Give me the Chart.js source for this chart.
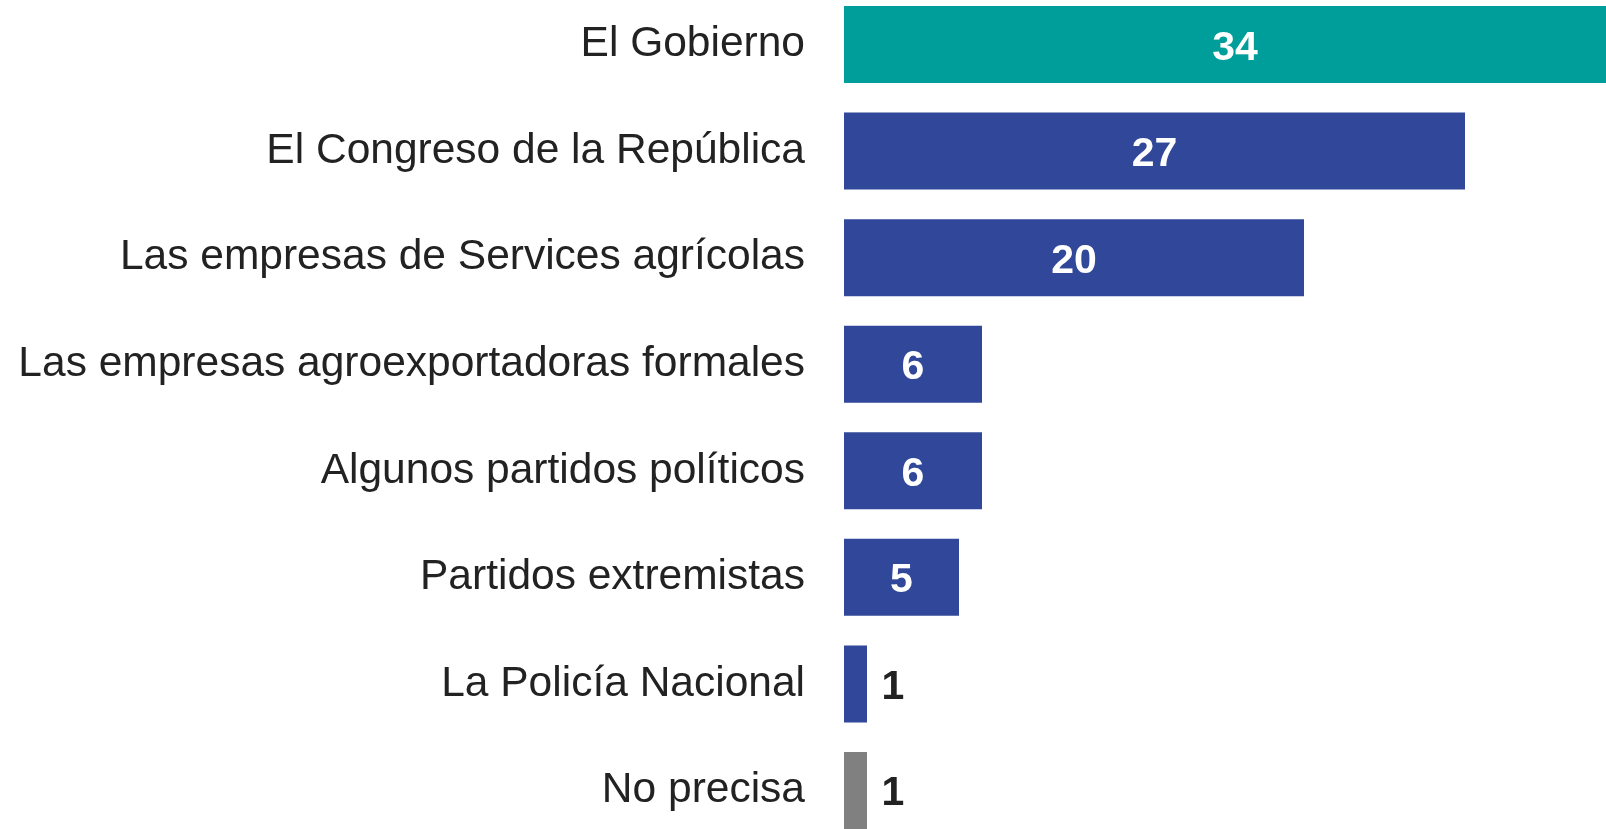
<!DOCTYPE html>
<html>
<head>
<meta charset="utf-8">
<script src="https://cdn.jsdelivr.net/npm/chart.js@4/dist/chart.umd.min.js"></script>
<style>
    html, body { margin: 0; padding: 0; background: #fff; overflow: hidden; width: 1606px; height: 829px; }
    #chart { position: absolute; left: 0; top: -69px; }
</style>
</head>
<body>
<canvas id="chart" width="1764" height="973"></canvas>
<script>
const categories = [
    'El Gobierno',
    'El Congreso de la República',
    'Las empresas de Services agrícolas',
    'Las empresas agroexportadoras formales',
    'Algunos partidos políticos',
    'Partidos extremistas',
    'La Policía Nacional',
    'No precisa'
];
const values = [34, 27, 20, 6, 6, 5, 1, 1];
const barColors = ['#009e9a', '#30479a', '#30479a', '#30479a', '#30479a', '#30479a', '#30479a', '#808080'];

// value labels: white inside wide bars, dark just past the end of tiny ones
const valueLabels = {
    id: 'valueLabels',
    afterDatasetsDraw(chart) {
        const ctx = chart.ctx;
        const meta = chart.getDatasetMeta(0);
        ctx.save();
        ctx.font = 'bold 41px "Liberation Sans", Arial, sans-serif';
        ctx.textAlign = 'center';
        ctx.textBaseline = 'alphabetic';
        meta.data.forEach((bar, i) => {
            const v = values[i];
            const w = bar.x - bar.base;
            if (w > 60) {
                ctx.fillStyle = '#ffffff';
                ctx.fillText(String(v), bar.base + w / 2, bar.y + 15);
            } else {
                ctx.fillStyle = '#222222';
                ctx.fillText(String(v), bar.x + 26, bar.y + 15);
            }
        });
        ctx.restore();
    }
};

new Chart(document.getElementById('chart'), {
    type: 'bar',
    data: {
        labels: categories,
        datasets: [{
            data: values,
            backgroundColor: barColors,
            borderWidth: 0,
            barPercentage: 0.7225,
            categoryPercentage: 1
        }]
    },
    options: {
        indexAxis: 'y',
        responsive: false,
        animation: false,
        layout: { padding: 0 },
        plugins: {
            legend: { display: false },
            tooltip: { enabled: false }
        },
        scales: {
            x: {
                display: false,
                min: 0,
                max: 40
            },
            y: {
                grid: { display: false, drawTicks: false },
                border: { display: false },
                ticks: {
                    color: '#222222',
                    padding: 39,
                    font: { family: '"Liberation Sans", Arial, sans-serif', size: 42.5, lineHeight: 1 }
                },
                afterFit(scale) { scale.width = 844; }
            }
        }
    },
    plugins: [valueLabels]
});
</script>
</body>
</html>
